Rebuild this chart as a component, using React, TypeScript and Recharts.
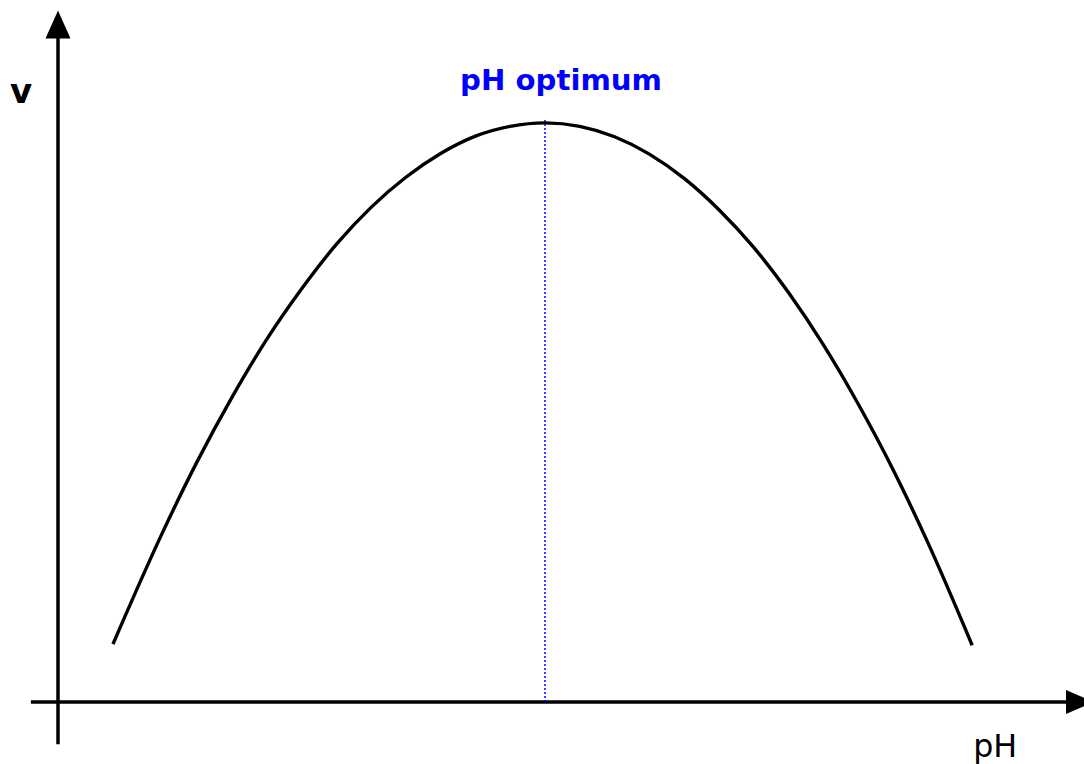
import React from 'react';
import { Line, LineChart, ReferenceDot, ReferenceLine, XAxis, YAxis } from 'recharts';

// pH values and reaction rate v (relative)
const phValues = [0.79, 1.5, 2, 2.5, 3, 3.5, 4, 4.5, 5, 5.5, 6, 6.5, 7, 7.5, 8, 8.5, 9, 9.5, 10, 10.5, 11, 11.5, 12, 12.5, 13.14];
const rateValues = [0.1, 0.292, 0.415, 0.526, 0.626, 0.713, 0.79, 0.854, 0.906, 0.947, 0.977, 0.994, 1.0, 0.994, 0.976, 0.946, 0.904, 0.85, 0.785, 0.707, 0.617, 0.515, 0.402, 0.276, 0.098];

const optimumPh = 7;
const optimumTop = 1.008;

const xAxisFrom = -0.39;
const xAxisTo = 14.69;
const yAxisFrom = -0.073;
const yAxisTo = 1.17;

const data = phValues.map((ph, i) => ({ ph, v: rateValues[i] }));

const font = '"DejaVu Sans", sans-serif';

const arrowUp = (props: any) => (
  <polygon
    points={`${props.cx},${props.cy - 14} ${props.cx - 12.5},${props.cy + 14} ${props.cx + 12.5},${props.cy + 14}`}
    fill="#000"
  />
);

const arrowRight = (props: any) => (
  <polygon
    points={`${props.cx + 14},${props.cy} ${props.cx - 14},${props.cy - 12} ${props.cx - 14},${props.cy + 12}`}
    fill="#000"
  />
);

const textShape = (text: string, opts: { dx: number; dy: number; size: number; bold?: boolean; color?: string; width?: number }) =>
  (props: any) => (
    <text
      x={props.cx + opts.dx}
      y={props.cy + opts.dy}
      textAnchor="middle"
      fontFamily={font}
      fontSize={opts.size}
      fontWeight={opts.bold ? 'bold' : 'normal'}
      fill={opts.color || '#000'}
      textLength={opts.width}
      lengthAdjust={opts.width ? 'spacingAndGlyphs' : undefined}
    >
      {text}
    </text>
  );

export default function App() {
  return (
    <div style={{ position: 'absolute', left: 0, top: 0, width: 1084, height: 764, background: '#fff' }}>
      <LineChart width={1084} height={764} data={data} margin={{ top: 7, right: 52, bottom: 62, left: 58 }}>
        <XAxis type="number" dataKey="ph" domain={[0, 14]} hide allowDataOverflow />
        <YAxis type="number" domain={[0, 1.2]} hide allowDataOverflow />
        <ReferenceLine
          segment={[{ x: xAxisFrom, y: 0 }, { x: xAxisTo, y: 0 }]}
          stroke="#000"
          strokeWidth={3.5}
          ifOverflow="visible"
        />
        <ReferenceLine
          segment={[{ x: 0, y: yAxisFrom }, { x: 0, y: yAxisTo }]}
          stroke="#000"
          strokeWidth={3.5}
          ifOverflow="visible"
        />
        <ReferenceDot x={0} y={yAxisTo} r={0} shape={arrowUp} ifOverflow="visible" />
        <ReferenceDot x={xAxisTo} y={0} r={0} shape={arrowRight} ifOverflow="visible" />
        <ReferenceLine
          segment={[{ x: optimumPh, y: 0 }, { x: optimumPh, y: optimumTop }]}
          stroke="#0000ff"
          strokeWidth={1.5}
          strokeDasharray="2 2"
          ifOverflow="visible"
        />
        <Line
          type="monotone"
          dataKey="v"
          stroke="#000"
          strokeWidth={3.4}
          dot={false}
          activeDot={false}
          isAnimationActive={false}
        />
        <ReferenceDot
          x={optimumPh}
          y={optimumTop}
          r={0}
          ifOverflow="visible"
          shape={textShape('pH optimum', { dx: 16, dy: -28, size: 28, bold: true, color: '#0000ff', width: 202 })}
        />
        <ReferenceDot
          x={0}
          y={yAxisTo}
          r={0}
          ifOverflow="visible"
          shape={textShape('v', { dx: -37, dy: 79, size: 34, bold: true })}
        />
        <ReferenceDot
          x={13.47}
          y={0}
          r={0}
          ifOverflow="visible"
          shape={textShape('pH', { dx: 0, dy: 55, size: 32, width: 44 })}
        />
      </LineChart>
    </div>
  );
}
